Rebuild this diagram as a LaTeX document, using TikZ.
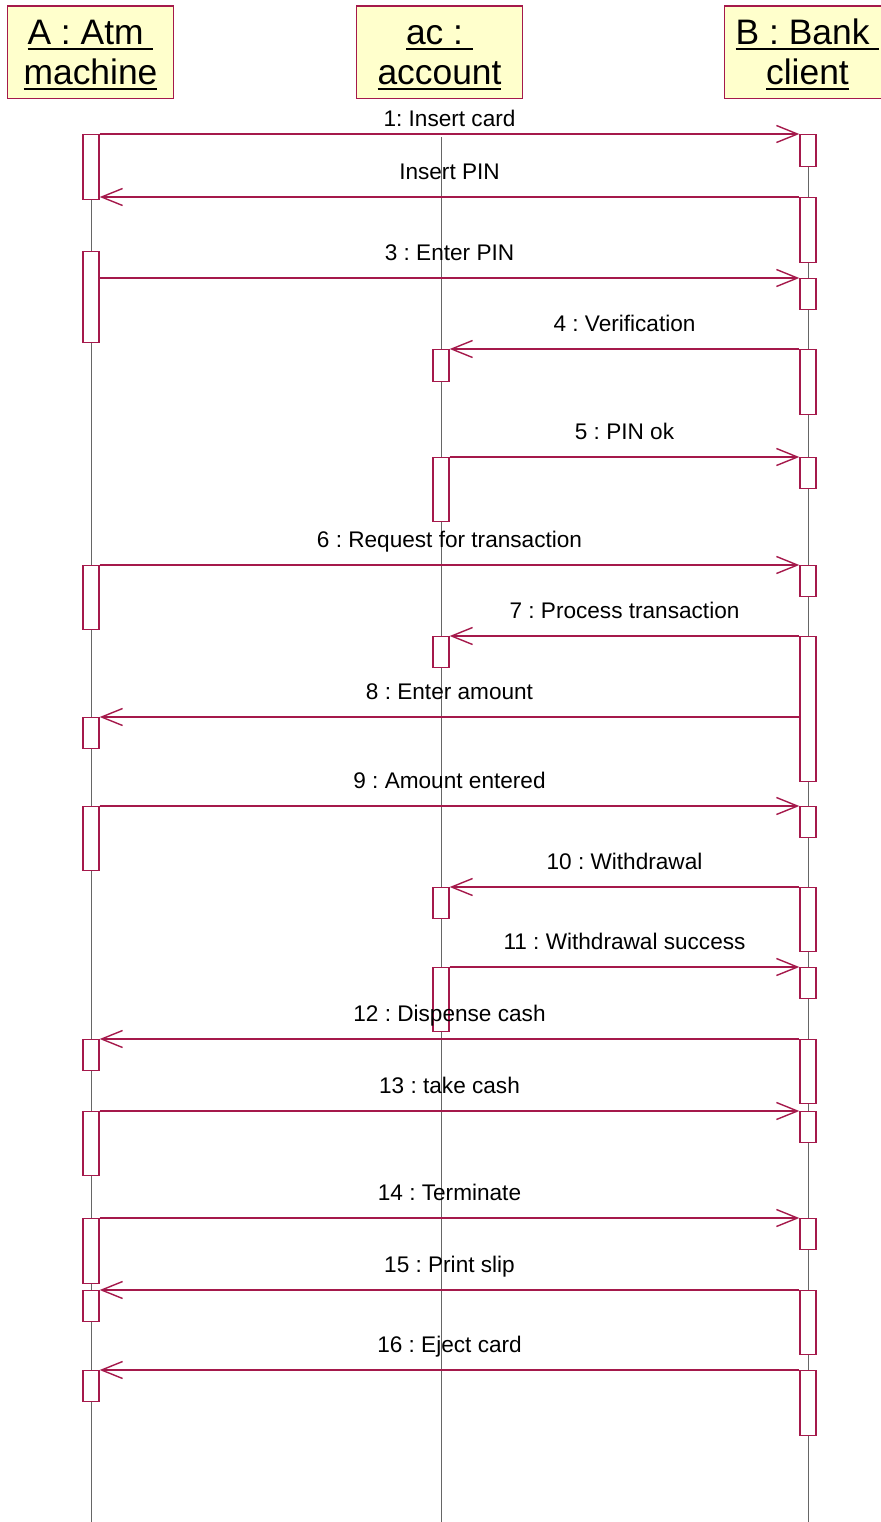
\documentclass[tikz,border=0pt]{standalone}
\usepackage{fontspec}
\setmainfont{Liberation Sans}
\usepackage{tikz}
\usetikzlibrary{arrows.meta}
\definecolor{rose}{RGB}{165,25,75}
\definecolor{paper}{RGB}{255,255,204}
\newcommand{\uln}[1]{\leavevmode\setbox0\hbox{#1}\rlap{\raisebox{-2.5pt}{\rule{\wd0}{1pt}}}\box0}
\frenchspacing

\begin{document}
\begin{tikzpicture}[x=0.5pt,y=-0.5pt]
  \tikzstyle{obj}=[draw=rose,fill=paper,line width=0.7pt,minimum width=83pt,minimum height=46.25pt,align=center,font=\fontsize{17.7}{20}\selectfont]
  \tikzstyle{act}=[draw=rose,fill=white,line width=0.7pt,minimum width=8pt,inner sep=0pt,anchor=north]
  \tikzstyle{life}=[black!60,line width=0.5pt]
  \tikzstyle{msg}=[draw=rose,line width=0.7pt,-{Straight Barb[length=10.5pt,width=8.5pt]}]
  \tikzstyle{lbl}=[midway,anchor=base,yshift=9pt,inner sep=0pt,font=\fontsize{11.3}{13}\selectfont]

  \useasboundingbox (0,0) rectangle (880,1522);

  % objects
  \node[obj] (A)  at (90.5,52.25)  {\rule{0pt}{15.2pt}\uln{A : Atm\ }\\\uln{machine}};
  \node[obj] (ac) at (439.5,52.25) {\rule{0pt}{15.2pt}\uln{ac :\ }\\\uln{account}};
  \node[obj] (B)  at (807.5,52.25) {\rule{0pt}{15.2pt}\uln{B : Bank\ }\\\uln{client}};

  \coordinate (A-end)  at (91,1522);
  \coordinate (ac-top) at (441,137);
  \coordinate (ac-end) at (441,1522);
  \coordinate (B-end)  at (808,1522);

  % lifelines
  \draw[life] (91,134) coordinate (A-top) -- (A-end);
  \draw[life] (ac-top) -- (ac-end);
  \draw[life] (808,134) coordinate (B-top) -- (B-end);

  % activations of A
  \node[act,minimum height=32.5pt] (a1)  at (A-top)    {};
  \node[act,minimum height=45.5pt] (a2)  at (91,251)  {};
  \node[act,minimum height=32pt]   (a3)  at (91,565)  {};
  \node[act,minimum height=15.5pt] (a4)  at (91,717)  {};
  \node[act,minimum height=32pt]   (a5)  at (91,806)  {};
  \node[act,minimum height=15.5pt] (a6)  at (91,1039) {};
  \node[act,minimum height=32pt]   (a7)  at (91,1111) {};
  \node[act,minimum height=32.5pt] (a8)  at (91,1218) {};
  \node[act,minimum height=15.5pt] (a9)  at (91,1290) {};
  \node[act,minimum height=15.5pt] (a10) at (91,1370) {};

  % activations of ac
  \node[act,minimum height=16pt]   (c1) at (441,349) {};
  \node[act,minimum height=32pt]   (c2) at (441,457) {};
  \node[act,minimum height=15.5pt] (c3) at (441,636) {};
  \node[act,minimum height=15.5pt] (c4) at (441,887) {};
  \node[act,minimum height=32pt]   (c5) at (441,967) {};

  % activations of B
  \node[act,minimum height=16pt]   (b1)  at (B-top)     {};
  \node[act,minimum height=32.5pt] (b2)  at (808,197)  {};
  \node[act,minimum height=15.5pt] (b3)  at (808,278)  {};
  \node[act,minimum height=32.5pt] (b4)  at (808,349)  {};
  \node[act,minimum height=15.5pt] (b5)  at (808,457)  {};
  \node[act,minimum height=15.5pt] (b6)  at (808,565)  {};
  \node[act,minimum height=72.5pt] (b7)  at (808,636)  {};
  \node[act,minimum height=15.5pt] (b8)  at (808,806)  {};
  \node[act,minimum height=32pt]   (b9)  at (808,887)  {};
  \node[act,minimum height=15.5pt] (b10) at (808,967)  {};
  \node[act,minimum height=32pt]   (b11) at (808,1039) {};
  \node[act,minimum height=15.5pt] (b12) at (808,1111) {};
  \node[act,minimum height=15.5pt] (b13) at (808,1218) {};
  \node[act,minimum height=32pt]   (b14) at (808,1290) {};
  \node[act,minimum height=32.5pt] (b15) at (808,1370) {};

  % messages
  \path (a1.north east)        edge[msg] node[lbl,yshift=-5pt] {1: Insert card} (b1.north west)
        (b2.north west)        edge[msg] node[lbl] {Insert PIN}                  (b2.north west -| a1.east)
        (a2.east |- b3.north)  edge[msg] node[lbl] {3 : Enter PIN}               (b3.north west)
        (b4.north west)        edge[msg] node[lbl] {4 : Verification}            (c1.north east)
        (c2.north east)        edge[msg] node[lbl] {5 : PIN ok}                  (b5.north west)
        (a3.north east)        edge[msg] node[lbl] {6 : Request for transaction} (b6.north west)
        (b7.north west)        edge[msg] node[lbl] {7 : Process transaction}     (c3.north east)
        (a4.north east -| b7.west) edge[msg] node[lbl] {8 : Enter amount}        (a4.north east)
        (a5.north east)        edge[msg] node[lbl] {9 : Amount entered}          (b8.north west)
        (b9.north west)        edge[msg] node[lbl] {10 : Withdrawal}             (c4.north east)
        (c5.north east)        edge[msg] node[lbl] {11 : Withdrawal success}     (b10.north west)
        (b11.north west)       edge[msg] node[lbl] {12 : Dispense cash}          (a6.north east)
        (a7.north east)        edge[msg] node[lbl] {13 : take cash}              (b12.north west)
        (a8.north east)        edge[msg] node[lbl] {14 : Terminate}              (b13.north west)
        (b14.north west)       edge[msg] node[lbl] {15 : Print slip}             (a9.north east)
        (b15.north west)       edge[msg] node[lbl] {16 : Eject card}             (a10.north east);
\end{tikzpicture}
\end{document}
